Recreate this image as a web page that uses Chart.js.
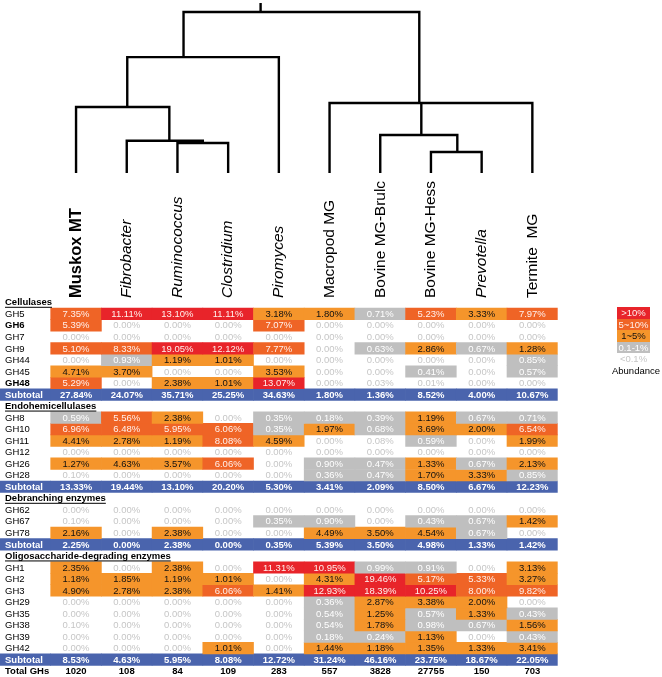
<!DOCTYPE html>
<html>
<head>
<meta charset="utf-8">
<script src="https://cdn.jsdelivr.net/npm/chart.js@4/dist/chart.umd.min.js"></script>
<style>
html,body{margin:0;padding:0;background:#fff;}
#wrap{position:relative;width:662px;height:677px;overflow:hidden;}
#c{position:absolute;left:0;top:0;}
#legend{position:absolute;left:617px;top:307px;width:33px;font:9.5px "Liberation Sans",Arial,sans-serif;}
#legend div{height:11.5px;line-height:11.5px;text-align:center;}
#abund{position:absolute;left:606px;width:60px;top:365px;text-align:center;font:9.5px "Liberation Sans",Arial,sans-serif;color:#000;}
</style>
</head>
<body>
<div id="wrap">
<canvas id="c" width="662" height="677"></canvas>
<div id="legend"></div>
<div id="abund">Abundance</div>
</div>
<script>
// ---------------- DATA ----------------
const samples = ['Muskox MT','Fibrobacter','Ruminococcus','Clostridium','Piromyces','Macropod MG','Bovine MG-Brulc','Bovine MG-Hess','Prevotella','Termite  MG'];
const sampleStyle = ['bold','italic','italic','italic','italic','normal','normal','normal','italic','normal'];

const sections = ['Cellulases','Endohemicellulases','Debranching enzymes','Oligosaccharide-degrading enzymes'];

const cellulaseFamilies = ['GH5','GH6','GH7','GH9','GH44','GH45','GH48'];
const cellulaseValues = [
  [7.35, 11.11, 13.10, 11.11, 3.18, 1.80, 0.71, 5.23, 3.33, 7.97],
  [5.39, 0.00, 0.00, 0.00, 7.07, 0.00, 0.00, 0.00, 0.00, 0.00],
  [0.00, 0.00, 0.00, 0.00, 0.00, 0.00, 0.00, 0.00, 0.00, 0.00],
  [5.10, 8.33, 19.05, 12.12, 7.77, 0.00, 0.63, 2.86, 0.67, 1.28],
  [0.00, 0.93, 1.19, 1.01, 0.00, 0.00, 0.00, 0.00, 0.00, 0.85],
  [4.71, 3.70, 0.00, 0.00, 3.53, 0.00, 0.00, 0.41, 0.00, 0.57],
  [5.29, 0.00, 2.38, 1.01, 13.07, 0.00, 0.03, 0.01, 0.00, 0.00]
];
const cellulaseSubtotal = [27.84, 24.07, 35.71, 25.25, 34.63, 1.80, 1.36, 8.52, 4.00, 10.67];

const endoFamilies = ['GH8','GH10','GH11','GH12','GH26','GH28'];
const endoValues = [
  [0.59, 5.56, 2.38, 0.00, 0.35, 0.18, 0.39, 1.19, 0.67, 0.71],
  [6.96, 6.48, 5.95, 6.06, 0.35, 1.97, 0.68, 3.69, 2.00, 6.54],
  [4.41, 2.78, 1.19, 8.08, 4.59, 0.00, 0.08, 0.59, 0.00, 1.99],
  [0.00, 0.00, 0.00, 0.00, 0.00, 0.00, 0.00, 0.00, 0.00, 0.00],
  [1.27, 4.63, 3.57, 6.06, 0.00, 0.90, 0.47, 1.33, 0.67, 2.13],
  [0.10, 0.00, 0.00, 0.00, 0.00, 0.36, 0.47, 1.70, 3.33, 0.85]
];
const endoSubtotal = [13.33, 19.44, 13.10, 20.20, 5.30, 3.41, 2.09, 8.50, 6.67, 12.23];

const debranchFamilies = ['GH62','GH67','GH78'];
const debranchValues = [
  [0.00, 0.00, 0.00, 0.00, 0.00, 0.00, 0.00, 0.00, 0.00, 0.00],
  [0.10, 0.00, 0.00, 0.00, 0.35, 0.90, 0.00, 0.43, 0.67, 1.42],
  [2.16, 0.00, 2.38, 0.00, 0.00, 4.49, 3.50, 4.54, 0.67, 0.00]
];
const debranchSubtotal = [2.25, 0.00, 2.38, 0.00, 0.35, 5.39, 3.50, 4.98, 1.33, 1.42];

const oligoFamilies = ['GH1','GH2','GH3','GH29','GH35','GH38','GH39','GH42'];
const oligoValues = [
  [2.35, 0.00, 2.38, 0.00, 11.31, 10.95, 0.99, 0.91, 0.00, 3.13],
  [1.18, 1.85, 1.19, 1.01, 0.00, 4.31, 19.46, 5.17, 5.33, 3.27],
  [4.90, 2.78, 2.38, 6.06, 1.41, 12.93, 18.39, 10.25, 8.00, 9.82],
  [0.00, 0.00, 0.00, 0.00, 0.00, 0.36, 2.87, 3.38, 2.00, 0.00],
  [0.00, 0.00, 0.00, 0.00, 0.00, 0.54, 1.25, 0.57, 1.33, 0.43],
  [0.10, 0.00, 0.00, 0.00, 0.00, 0.54, 1.78, 0.98, 0.67, 1.56],
  [0.00, 0.00, 0.00, 0.00, 0.00, 0.18, 0.24, 1.13, 0.00, 0.43],
  [0.00, 0.00, 0.00, 1.01, 0.00, 1.44, 1.18, 1.35, 1.33, 3.41]
];
const oligoSubtotal = [8.53, 4.63, 5.95, 8.08, 12.72, 31.24, 46.16, 23.75, 18.67, 22.05];

const totalGHs = [1020, 108, 84, 109, 283, 557, 3828, 27755, 150, 703];
const boldFamilies = ['GH6','GH48'];

// abundance classes
const classLabels = ['>10%','5~10%','1~5%','0.1-1%','<0.1%'];

// dendrogram (leaves = columns 0..9; internal nodes)
const nodeChildren = [
  ['L2','L3'],
  ['L1','N0'],
  ['L0','N1'],
  ['N2','L4'],
  ['L7','L8'],
  ['L6','N4'],
  ['L5','N5','L9'],
  ['N3','N6']
];
const nodeHeight = [0.186, 0.20, 0.41, 0.72, 0.13, 0.236, 0.435, 1.0];
const nodeX = [2.5, 1.84, 1.01, 2.12, 7.52, 6.81, 6.77, 3.64];
const rootStubTop = 1.056;

// ---------------- STYLE ----------------
const FONT = '"Liberation Sans", Arial, Helvetica, sans-serif';
const classFill = ['#E8242A', '#EF6426', '#F5952B', '#BFBFBF', null];
const classText = ['#FFF0EC', '#FFF0EC', '#111111', '#FFFFFF', '#C6C6C6'];
const subtotalFill = '#4A64AD';

function levelOf(v){
  if (v > 10) return 0;
  if (v >= 5) return 1;
  if (v >= 1) return 2;
  if (v > 0.1) return 3;
  return 4;
}

// ---------------- BUILD ROWS ----------------
const groups = [
  {title: sections[0], fam: cellulaseFamilies, vals: cellulaseValues, sub: cellulaseSubtotal},
  {title: sections[1], fam: endoFamilies, vals: endoValues, sub: endoSubtotal},
  {title: sections[2], fam: debranchFamilies, vals: debranchValues, sub: debranchSubtotal},
  {title: sections[3], fam: oligoFamilies, vals: oligoValues, sub: oligoSubtotal}
];
const rows = [];
groups.forEach(g => {
  rows.push({kind: 'header', label: g.title});
  g.fam.forEach((f, i) => rows.push({kind: 'family', label: f, values: g.vals[i]}));
  rows.push({kind: 'subtotal', label: 'Subtotal', values: g.sub});
});
rows.push({kind: 'total', label: 'Total GHs', values: totalGHs});

const xLabels = [''].concat(samples);

const datasets = [];
rows.forEach((row, r) => {
  if (row.kind === 'family') {
    const data = [null];
    const colors = ['rgba(0,0,0,0)'];
    row.values.forEach(v => {
      const lv = levelOf(v);
      data.push(classFill[lv] ? [r - 0.5, r + 0.5] : null);
      colors.push(classFill[lv] || 'rgba(0,0,0,0)');
    });
    datasets.push({type: 'bar', data, backgroundColor: colors, grouped: false,
      categoryPercentage: 1, barPercentage: 1, borderWidth: 0, xAxisID: 'x', yAxisID: 'y', order: 2});
  } else if (row.kind === 'subtotal') {
    const data = [[r - 0.5, r + 0.5]].concat(row.values.map(() => [r - 0.5, r + 0.5]));
    datasets.push({type: 'bar', data, backgroundColor: subtotalFill, grouped: false,
      categoryPercentage: 1, barPercentage: 1, borderWidth: 0, xAxisID: 'x', yAxisID: 'y', order: 2});
  }
});

// dendrogram line datasets
function nodePos(id){
  if (id[0] === 'L') { return {x: +id.slice(1), h: 0}; }
  const k = +id.slice(1);
  return {x: nodeX[k], h: nodeHeight[k]};
}
const lineStyle = {type: 'line', borderColor: '#000', borderWidth: 2.4, pointRadius: 0, fill: false,
  tension: 0, xAxisID: 'xd', yAxisID: 'yd', order: 1, borderJoinStyle: 'miter', spanGaps: false};
nodeChildren.forEach((ch, k) => {
  const h = nodeHeight[k];
  const first = nodePos(ch[0]);
  const last = nodePos(ch[ch.length - 1]);
  datasets.push(Object.assign({}, lineStyle, {data: [
    {x: first.x, y: first.h}, {x: first.x, y: h}, {x: last.x, y: h}, {x: last.x, y: last.h}
  ]}));
  for (let m = 1; m < ch.length - 1; m++) {
    const mid = nodePos(ch[m]);
    datasets.push(Object.assign({}, lineStyle, {data: [{x: mid.x, y: mid.h}, {x: mid.x, y: h}]}));
  }
});
const rootIdx = nodeChildren.length - 1;
datasets.push(Object.assign({}, lineStyle, {data: [
  {x: nodeX[rootIdx], y: nodeHeight[rootIdx]}, {x: nodeX[rootIdx], y: rootStubTop}
]}));

// ---------------- TEXT PLUGIN ----------------
const tablePlugin = {
  id: 'tableText',
  afterDatasetsDraw(chart) {
    const ctx = chart.ctx;
    const xs = chart.scales.x, ys = chart.scales.y;
    const left = chart.chartArea.left;
    ctx.save();
    ctx.textBaseline = 'middle';
    rows.forEach((row, r) => {
      const y = ys.getPixelForValue(r) + 0.5;
      ctx.textAlign = 'left';
      if (row.kind === 'header') {
        ctx.font = 'bold 9.5px ' + FONT;
        ctx.fillStyle = '#000';
        ctx.fillText(row.label, left + 5, y);
        const w = ctx.measureText(row.label).width;
        ctx.fillRect(left + 5, y + 4, w, 1);
        return;
      }
      let valueFont;
      if (row.kind === 'family') {
        ctx.font = (boldFamilies.includes(row.label) ? 'bold ' : '') + '9.5px ' + FONT;
        ctx.fillStyle = '#000';
        valueFont = '9.5px ' + FONT;
      } else if (row.kind === 'subtotal') {
        ctx.font = 'bold 9.5px ' + FONT;
        ctx.fillStyle = '#fff';
        valueFont = 'bold 9.5px ' + FONT;
      } else {
        ctx.font = 'bold 9.5px ' + FONT;
        ctx.fillStyle = '#000';
        valueFont = 'bold 9.5px ' + FONT;
      }
      ctx.fillText(row.label, left + 5, y);
      ctx.textAlign = 'center';
      ctx.font = valueFont;
      row.values.forEach((v, c) => {
        const x = xs.getPixelForValue(c + 1);
        let txt, col;
        if (row.kind === 'total') { txt = String(v); col = '#000'; }
        else { txt = v.toFixed(2) + '%'; col = row.kind === 'subtotal' ? '#fff' : classText[levelOf(v)]; }
        ctx.fillStyle = col;
        ctx.fillText(txt, x, y);
      });
    });
    // rotated column labels
    const yb = ys.getPixelForValue(-0.5) + 1.5;
    samples.forEach((name, i) => {
      const x = xs.getPixelForValue(i + 1);
      const st = sampleStyle[i];
      ctx.save();
      ctx.translate(x, yb);
      ctx.rotate(-Math.PI / 2);
      ctx.textAlign = 'left';
      ctx.textBaseline = 'middle';
      ctx.fillStyle = '#000';
      ctx.font = st === 'bold' ? 'bold 16.5px ' + FONT : (st === 'italic' ? 'italic 15.5px ' + FONT : '15.5px ' + FONT);
      ctx.fillText(name, 0, 0);
      ctx.restore();
    });
    ctx.restore();
  }
};

// ---------------- LEGEND (HTML) ----------------
const lg = document.getElementById('legend');
classLabels.forEach((t, i) => {
  const d = document.createElement('div');
  d.textContent = t;
  d.style.background = classFill[i] || 'transparent';
  d.style.color = classText[i];
  lg.appendChild(d);
});

// ---------------- CHART ----------------
const slot = 50.7;
new Chart(document.getElementById('c'), {
  type: 'bar',
  data: {labels: xLabels, datasets},
  options: {
    responsive: false,
    animation: false,
    events: [],
    layout: {padding: {left: 0, top: 0, bottom: 0, right: 662 - slot * xLabels.length}},
    plugins: {legend: {display: false}, tooltip: {enabled: false}, title: {display: false}},
    scales: {
      x: {type: 'category', display: false, offset: true},
      y: {type: 'linear', display: false, reverse: true, min: -26.22, max: 32.5, offset: false},
      xd: {type: 'linear', display: false, min: -1.5, max: xLabels.length - 1.5, offset: false},
      yd: {type: 'linear', display: false, min: -3.1304, max: 1.0745, offset: false}
    }
  },
  plugins: [tablePlugin]
});
</script>
</body>
</html>
